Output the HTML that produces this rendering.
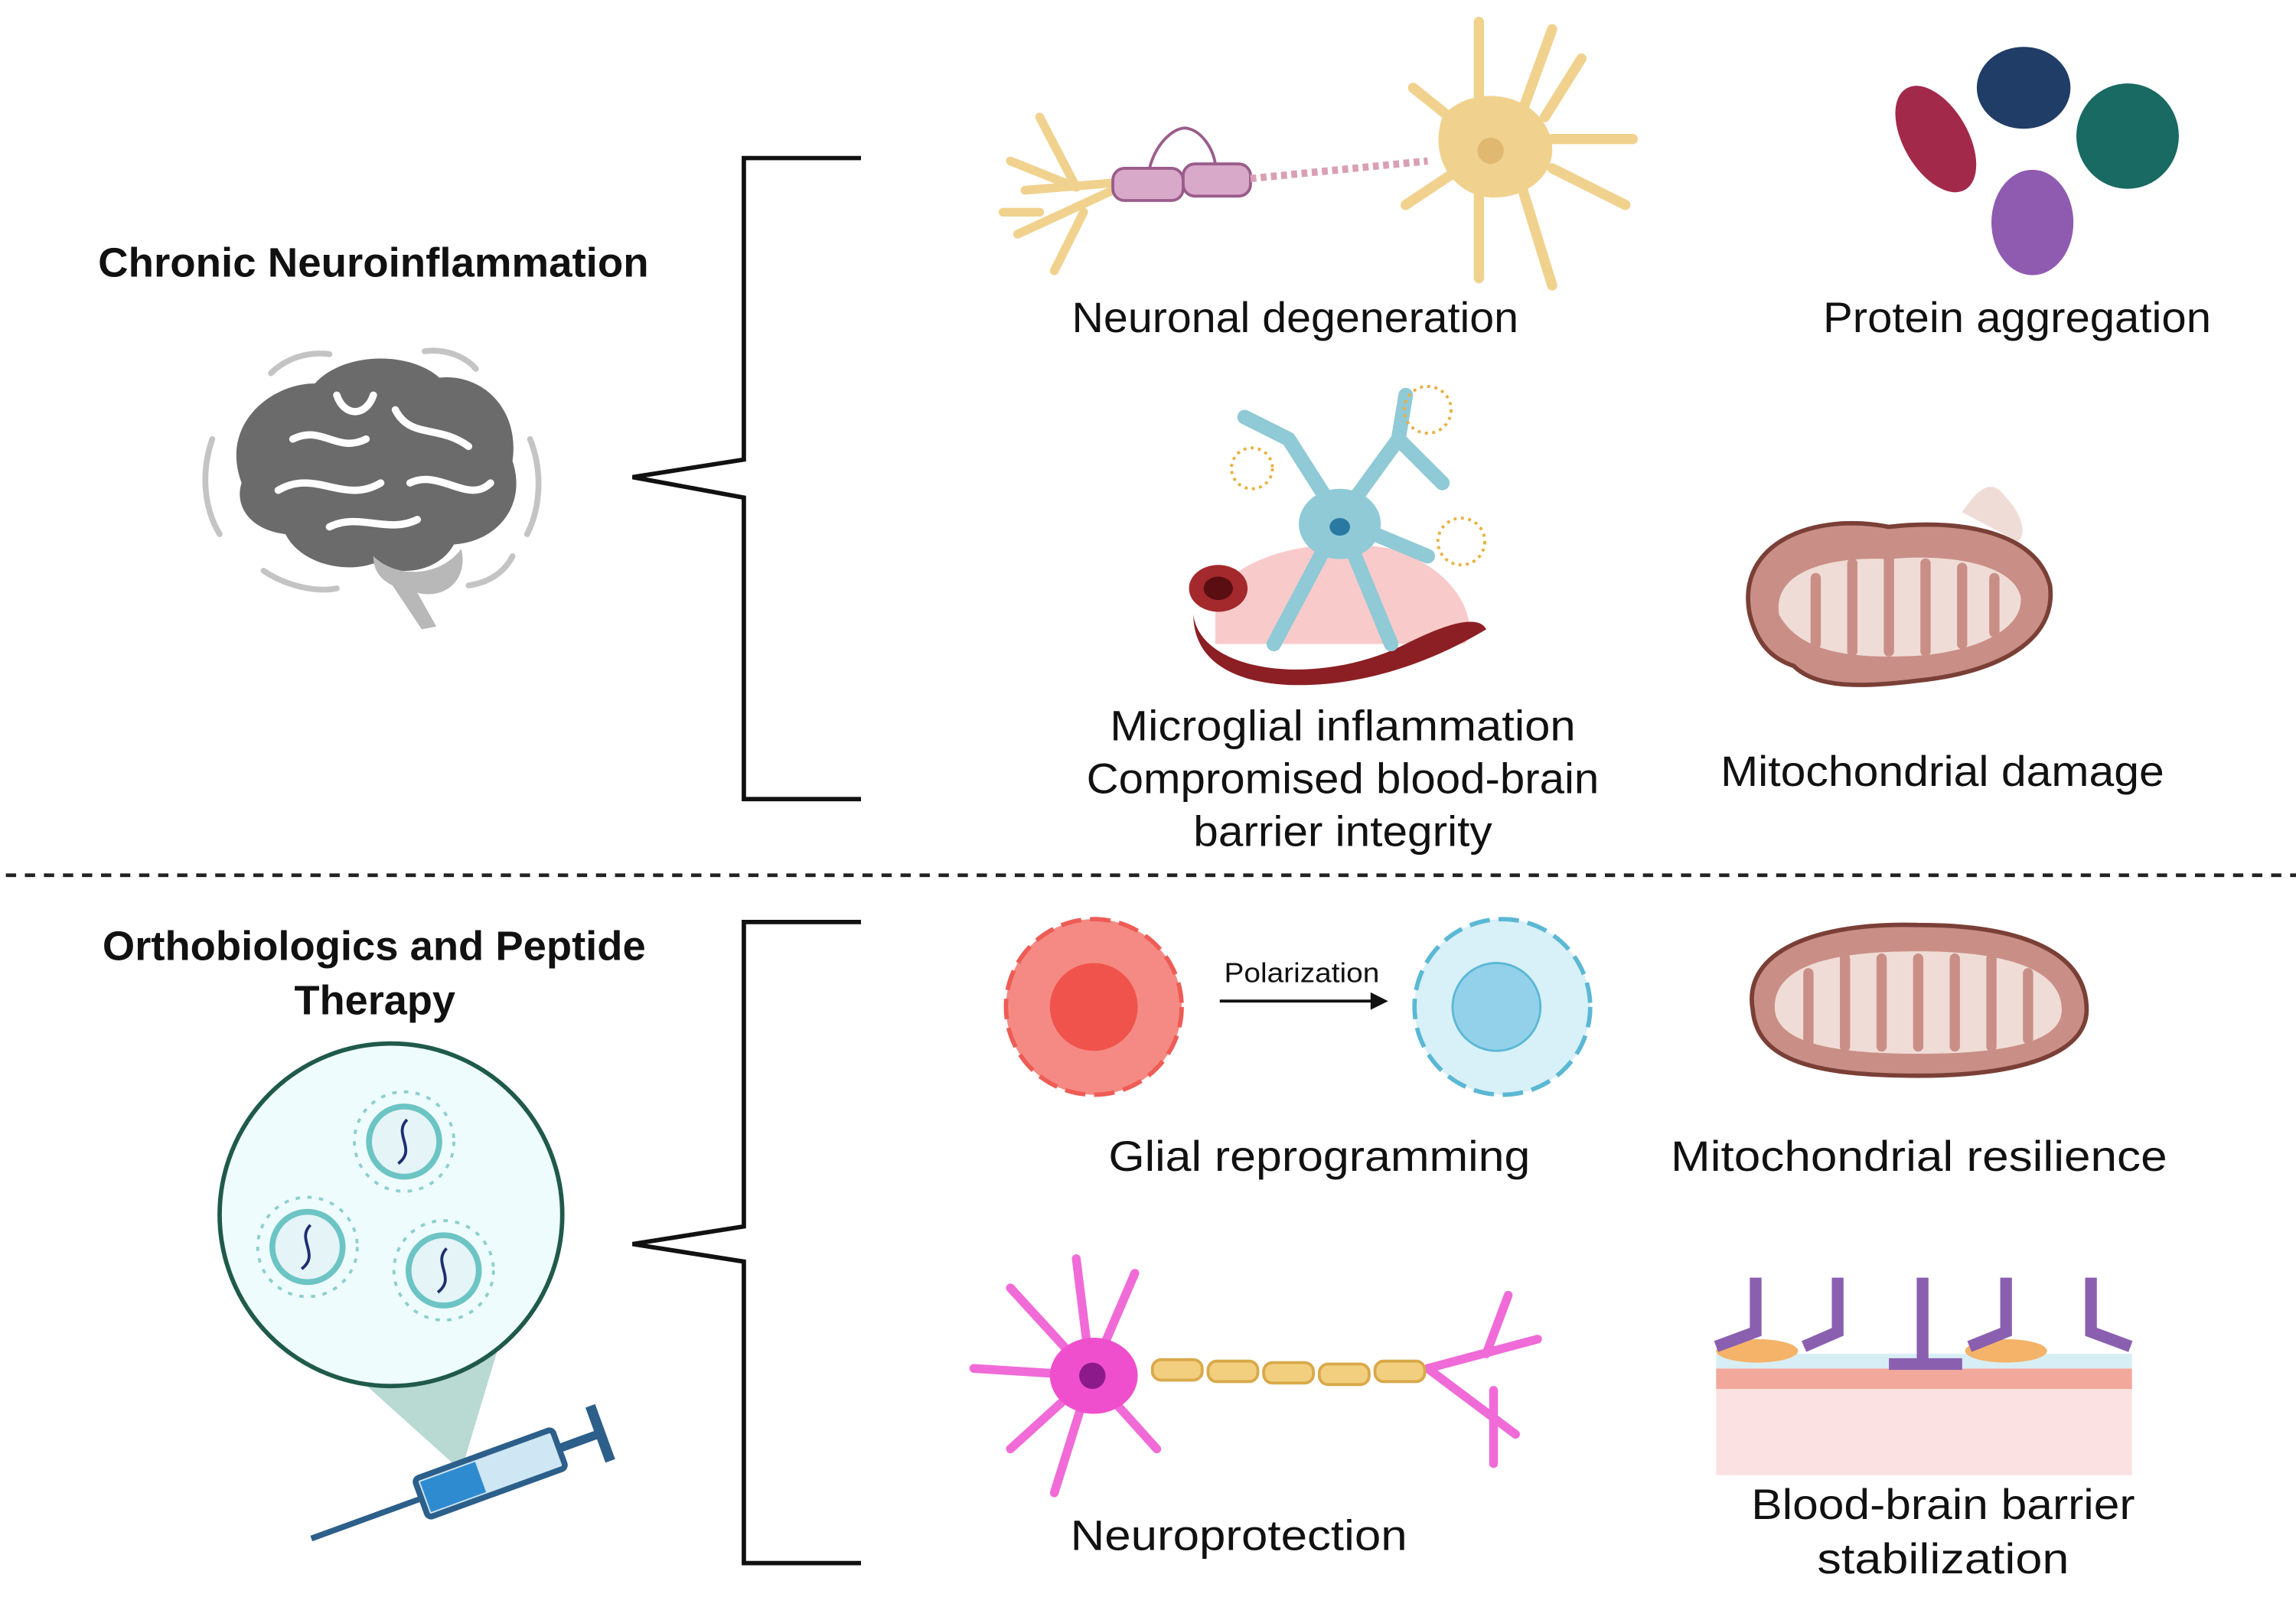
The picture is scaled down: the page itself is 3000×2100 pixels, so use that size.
<!DOCTYPE html>
<html><head><meta charset="utf-8"><style>
html,body{margin:0;padding:0;background:#fff;}
svg{display:block;}
text{font-family:"Liberation Sans",sans-serif;fill:#111;}
</style></head><body>
<svg width="3000" height="2100" viewBox="0 0 1568 1098" preserveAspectRatio="none" xmlns="http://www.w3.org/2000/svg">
<rect width="1568" height="1098" fill="#fff"/>
<path d="M588,108 H508 V314 L432,326 L508,340 V546 H588" fill="none" stroke="#111" stroke-width="3"/>
<path d="M588,630 H508 V838 L432,850 L508,862 V1068 H588" fill="none" stroke="#111" stroke-width="3"/>
<line x1="4" y1="598" x2="1568" y2="598" stroke="#222" stroke-width="2.5" stroke-dasharray="7,6"/>
<text x="67" y="189" font-size="28" font-weight="bold" textLength="376" lengthAdjust="spacingAndGlyphs">Chronic Neuroinflammation</text>
<text x="70" y="656" font-size="28" font-weight="bold" textLength="371" lengthAdjust="spacingAndGlyphs">Orthobiologics and Peptide</text>
<text x="201" y="693" font-size="28" font-weight="bold" textLength="110" lengthAdjust="spacingAndGlyphs">Therapy</text>
<g>
<path d="M165,330 C150,290 185,262 215,262 C235,240 280,240 300,258 C330,255 355,280 350,315 C360,345 340,370 310,372 C300,390 275,395 255,385 C235,392 205,385 195,365 C170,362 160,345 165,330 Z" fill="#6b6b6b"/>
<path d="M255,380 C270,395 300,395 315,375 C320,395 305,410 285,405 L298,428 L288,430 L268,400 C258,395 255,388 255,380Z" fill="#b8b8b8"/>
<path d="M200,300 C220,290 230,310 250,300 M190,335 C215,320 235,345 260,330 M270,280 C280,300 300,290 320,305 M280,330 C300,320 320,345 335,330 M230,270 C235,285 250,285 255,270 M225,360 C245,350 265,365 285,355" stroke="#fff" stroke-width="5" fill="none" stroke-linecap="round"/>
<path d="M185,255 C195,245 210,240 225,242 M290,240 C305,238 318,244 325,252 M145,300 C138,320 138,345 150,365 M362,300 C370,320 370,345 360,365 M180,390 C195,400 215,405 230,402 M320,400 C335,398 345,390 350,380" stroke="#c4c4c4" stroke-width="4" fill="none" stroke-linecap="round"/>
</g>
<g>
<path d="M700,130 L760,125 M690,110 L735,128 M710,80 L735,128 M695,160 L760,130 M720,185 L740,145 M685,145 L710,145" stroke="#f0d28e" stroke-width="6" fill="none" stroke-linecap="round"/>
<rect x="760" y="115" width="48" height="22" rx="8" fill="#d9a9c9" stroke="#9a5d8a" stroke-width="2"/>
<rect x="808" y="112" width="46" height="22" rx="8" fill="#d9a9c9" stroke="#9a5d8a" stroke-width="2"/>
<path d="M785,115 C790,95 805,85 812,88 C820,90 828,100 830,112" stroke="#9a5d8a" stroke-width="2" fill="none"/>
<path d="M854,122 L975,110" stroke="#d9a0b5" stroke-width="5" stroke-dasharray="4,3"/>
<path d="M985,80 C1000,60 1040,60 1055,85 C1070,110 1050,135 1020,135 C995,135 975,110 985,80Z" fill="#f0d28e"/>
<path d="M1010,70 L1010,15 M1040,75 L1060,20 M1060,95 L1115,95 M1060,115 L1110,140 M1040,130 L1060,195 M1010,130 L1010,190 M990,120 L960,140 M990,80 L965,60 M1055,80 L1080,40" stroke="#f0d28e" stroke-width="7" fill="none" stroke-linecap="round"/>
<circle cx="1018" cy="103" r="9" fill="#e0b870"/>
</g>
<text x="732" y="227" font-size="29" textLength="305" lengthAdjust="spacingAndGlyphs">Neuronal degeneration</text>
<ellipse cx="1322" cy="95" rx="22" ry="40" transform="rotate(-30 1322 95)" fill="#a2294a"/>
<ellipse cx="1382" cy="60" rx="32" ry="28" fill="#1f3d66"/>
<ellipse cx="1453" cy="93" rx="35" ry="36" fill="#186a63"/>
<ellipse cx="1388" cy="152" rx="28" ry="36" fill="#8f5bb0"/>
<text x="1245" y="227" font-size="29" textLength="265" lengthAdjust="spacingAndGlyphs">Protein aggregation</text>
<g>
<path d="M830,410 C840,380 900,365 950,375 C1000,390 1010,430 1000,440 L830,440Z" fill="#f7bdbd" opacity="0.8"/>
<path d="M815,420 C820,460 900,470 960,440 C990,425 1010,420 1015,430 C990,445 940,470 880,468 C840,466 815,450 815,420Z" fill="#8c1f24"/>
<ellipse cx="832" cy="402" rx="20" ry="16" fill="#a3292c"/>
<ellipse cx="832" cy="402" rx="10" ry="8" fill="#5a0e12"/>
<path d="M915,355 L880,300 M915,355 L955,300 M915,355 L870,440 M915,355 L950,440 M915,355 L975,380 M880,300 L850,285 M955,300 L960,270 M955,300 L985,330" stroke="#8fcad6" stroke-width="10" fill="none" stroke-linecap="round"/>
<ellipse cx="915" cy="358" rx="28" ry="24" fill="#8fcad6"/>
<ellipse cx="915" cy="360" rx="7" ry="6" fill="#2a79a3"/>
<circle cx="855" cy="320" r="14" fill="none" stroke="#e9b040" stroke-width="2" stroke-dasharray="2,3"/>
<circle cx="975" cy="280" r="16" fill="none" stroke="#e9b040" stroke-width="2" stroke-dasharray="2,3"/>
<circle cx="998" cy="370" r="16" fill="none" stroke="#e9b040" stroke-width="2" stroke-dasharray="2,3"/>
</g>
<text x="758" y="506" font-size="29" textLength="318" lengthAdjust="spacingAndGlyphs">Microglial inflammation</text>
<text x="742" y="542" font-size="29" textLength="350" lengthAdjust="spacingAndGlyphs">Compromised blood-brain</text>
<text x="815" y="578" font-size="29" textLength="204" lengthAdjust="spacingAndGlyphs">barrier integrity</text>
<path d="M1195,420 C1185,370 1240,350 1290,360 C1330,355 1390,360 1400,400 C1405,440 1360,460 1310,465 C1270,470 1240,470 1225,455 C1210,450 1200,440 1195,420Z" fill="#c98f86" stroke="#7a3f36" stroke-width="3"/>
<path d="M1215,420 C1210,390 1250,380 1290,382 C1330,378 1375,385 1380,408 C1382,430 1350,445 1310,448 C1270,450 1230,448 1215,420Z" fill="#f0dcd6"/>
<path d="M1240,440 V395 M1265,445 V385 M1290,445 V382 M1315,445 V385 M1340,440 V388 M1362,432 V395" stroke="#c98f86" stroke-width="7" stroke-linecap="round"/>
<path d="M1340,350 C1350,335 1360,325 1370,340 C1380,350 1385,365 1378,370" fill="#f0dcd6"/>
<text x="1175" y="537" font-size="29" textLength="303" lengthAdjust="spacingAndGlyphs">Mitochondrial damage</text>
<circle cx="747" cy="688" r="60" fill="#f58a84" stroke="#ee5c55" stroke-width="3" stroke-dasharray="14,6"/>
<circle cx="747" cy="688" r="30" fill="#f0534c"/>
<circle cx="1026" cy="688" r="60" fill="#d8f0f8" stroke="#5bb8d4" stroke-width="3" stroke-dasharray="14,6"/>
<circle cx="1022" cy="688" r="30" fill="#93d1ea" stroke="#5bb8d4" stroke-width="1.5"/>
<text x="836" y="671" font-size="19" textLength="106" lengthAdjust="spacingAndGlyphs">Polarization</text>
<line x1="833" y1="684" x2="938" y2="684" stroke="#111" stroke-width="2"/>
<path d="M948,684 L936,678 L936,690Z" fill="#111"/>
<text x="757" y="800" font-size="29" textLength="288" lengthAdjust="spacingAndGlyphs">Glial reprogramming</text>
<path d="M1197,690 C1190,650 1240,630 1310,632 C1380,632 1425,650 1425,690 C1425,720 1380,735 1310,735 C1240,735 1200,725 1197,690Z" fill="#c98f86" stroke="#7a3f36" stroke-width="3"/>
<path d="M1212,688 C1212,660 1250,650 1310,650 C1370,650 1408,662 1408,690 C1408,712 1370,720 1310,720 C1250,720 1212,712 1212,688Z" fill="#f0dcd6"/>
<path d="M1235,712 V665 M1260,715 V655 M1285,715 V655 M1310,715 V655 M1335,715 V655 M1360,715 V655 M1385,710 V665" stroke="#c98f86" stroke-width="7" stroke-linecap="round"/>
<text x="1141" y="800" font-size="29" textLength="339" lengthAdjust="spacingAndGlyphs">Mitochondrial resilience</text>
<path d="M215,915 L315,1005 L345,905Z" fill="#a7cfc8" opacity="0.8"/>
<circle cx="267" cy="830" r="117" fill="#effcfd" stroke="#1f5a4a" stroke-width="3"/>
<g fill="#e5f4f7" stroke="#6cc4c4" stroke-width="4">
<circle cx="276" cy="780" r="24"/><circle cx="210" cy="852" r="24"/><circle cx="303" cy="868" r="24"/>
</g>
<g stroke="#8ccfcf" stroke-width="2" fill="none" stroke-dasharray="3,5">
<circle cx="276" cy="780" r="34"/><circle cx="210" cy="852" r="34"/><circle cx="303" cy="868" r="34"/>
</g>
<path d="M278,765 C268,775 285,785 272,795 M212,837 C202,847 219,857 206,867 M305,853 C295,863 312,873 299,883" stroke="#1c2f70" stroke-width="2" fill="none"/>
<g transform="rotate(-20 320 1010)">
<line x1="205" y1="1012" x2="285" y2="1012" stroke="#2c5f8a" stroke-width="4"/>
<rect x="285" y="998" width="100" height="28" rx="3" fill="#cfe6f4" stroke="#2c5f8a" stroke-width="4"/>
<rect x="288" y="1001" width="40" height="22" fill="#2f8bd0"/>
<line x1="385" y1="1012" x2="415" y2="1012" stroke="#2c5f8a" stroke-width="6"/>
<line x1="415" y1="992" x2="415" y2="1032" stroke="#2c5f8a" stroke-width="7"/>
</g>
<g stroke="#f06bd7" stroke-width="6" fill="none" stroke-linecap="round">
<path d="M745,940 L735,860 M745,940 L690,880 M745,940 L665,935 M745,940 L690,990 M745,940 L720,1020 M745,940 L790,990 M745,940 L775,870"/>
<path d="M975,935 L1050,915 M975,935 L1035,980 M1015,925 L1030,885 M1020,950 L1020,1000"/>
</g>
<ellipse cx="747" cy="940" rx="30" ry="26" fill="#ef4fcd"/>
<circle cx="746" cy="940" r="9" fill="#8d1a8a"/>
<g fill="#f2cf7e" stroke="#d9a94a" stroke-width="2">
<rect x="787" y="929" width="34" height="14" rx="6"/><rect x="825" y="930" width="34" height="14" rx="6"/><rect x="863" y="931" width="34" height="14" rx="6"/><rect x="901" y="932" width="34" height="14" rx="6"/><rect x="939" y="930" width="34" height="14" rx="6"/>
</g>
<text x="731" y="1059" font-size="29" textLength="230" lengthAdjust="spacingAndGlyphs">Neuroprotection</text>
<rect x="1172" y="948" width="284" height="60" fill="#fbe1e1"/>
<rect x="1172" y="935" width="284" height="14" fill="#f2a89b"/>
<rect x="1172" y="925" width="284" height="10" fill="#d7eef5"/>
<g fill="#f5b36a"><ellipse cx="1200" cy="923" rx="28" ry="8"/><ellipse cx="1370" cy="923" rx="28" ry="8"/></g>
<g stroke="#8a5fb0" stroke-width="8" fill="none">
<path d="M1199,873 V910 L1172,920 M1255,873 V910 L1232,920 M1313,873 V932 H1290 M1313,932 H1340 M1370,873 V910 L1345,920 M1428,873 V910 L1455,920"/>
</g>
<text x="1196" y="1038" font-size="29" textLength="262" lengthAdjust="spacingAndGlyphs">Blood-brain barrier</text>
<text x="1241" y="1075" font-size="29" textLength="172" lengthAdjust="spacingAndGlyphs">stabilization</text>
</svg>
</body></html>
